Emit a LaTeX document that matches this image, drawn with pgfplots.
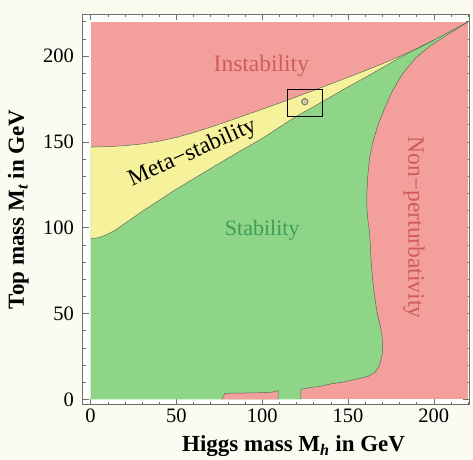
\documentclass[border=0pt]{standalone}
\usepackage{pgfplots}
\pgfplotsset{compat=1.18}
\usepackage{fontspec}
\setmainfont{Liberation Serif}

\definecolor{cred}{RGB}{243,160,156}
\definecolor{cgreen}{RGB}{142,213,136}
\definecolor{cyellow}{RGB}{246,242,155}
\definecolor{credtext}{RGB}{208,92,88}
\definecolor{cgreentext}{RGB}{62,158,88}
\definecolor{edge}{RGB}{95,105,85}
\definecolor{bgcream}{RGB}{252,251,242}
\definecolor{framegray}{RGB}{110,110,110}

\begin{document}
\begin{tikzpicture}
% page background, also fixes the picture size (frame sits at 0,0)
\fill[bgcream,use as bounding box] (-82.7pt,-54.5pt) rectangle (390.3pt,404.5pt);
\begin{axis}[name=ax,scale only axis,width=386.3pt,height=390.5pt,
  xmin=-4.6,xmax=220.5,ymin=-3,ymax=224.5,
  axis background/.style={fill=white},
  axis line style={draw=framegray,line width=0.5pt},
  xtick={0,50,...,200},ytick={0,50,...,200},
  minor xtick={0,10,...,220},minor ytick={0,10,...,220},
  major tick length=6pt,minor tick length=3pt,
  every tick/.style={framegray,line width=0.5pt},
  tick align=inside,
  /pgf/number format/assume math mode=true,
  ticklabel style={font=\fontsize{20.5}{24}\selectfont,inner sep=0pt},
  xticklabel style={yshift=-4pt},
  yticklabel style={xshift=-8.5pt},
  xlabel={\bfseries Higgs mass M\textsubscript{\itshape h} in GeV},
  ylabel={\bfseries Top mass M\textsubscript{\itshape t} in GeV},
  label style={font=\fontsize{23}{27}\selectfont},
  xlabel style={at={(axis description cs:0.546,-0.12)},anchor=base},
  ylabel style={at={(axis description cs:-0.152,0.5)},anchor=base},
]
% instability everywhere
\addplot[fill=cred,draw=none] coordinates {(0,0)(220,0)(220,220)(0,220)} -- cycle;
% stability region
\addplot[fill=cgreen,draw=none] coordinates {
  (0,0)(122.5,0)(122.5,5.8)(127.7,6.9)(133,7.4)(140,9)(148,10.2)(156,12)(162,13.5)
  (166,16)(168.5,20)(170,27)(170,35)(169,42)(167,50)(165.5,60)(164.3,70)(163.5,80)
  (163,90)(162.5,98)(161.5,105)(161,112)(161,120)(161.5,130)(162.5,140)(164.5,150)
  (167.5,160)(171.5,170)(176,180)(182,190)(189.5,199)(198,206)(208,212.5)(215,216.8)(220,220)
  (210,214.6)(200,209.3)(190,204.2)(180,199.8)(170,195.5)(160,191.5)(150,187.6)(140,183.8)
  (130,180)(120,176.3)(110,172.6)(100,169)(90,165.5)(80,162)(70,158.6)(60,155.4)(50,152.6)
  (40,150.4)(30,148.8)(20,147.8)(10,147.2)(0,147)} -- cycle;
% meta-stability band
\addplot[fill=cyellow,draw=none] coordinates {
  (0,147)(10,147.2)(20,147.8)(30,148.8)(40,150.4)(50,152.6)(60,155.4)(70,158.6)(80,162)
  (90,165.5)(100,169)(110,172.6)(120,176.3)(130,180)(140,183.8)(150,187.6)(160,191.5)
  (170,195.5)(180,199.8)(190,204.2)(200,209.3)
  (190,204.3)(180,199)(170,193.2)(160,187.5)(150,182)(140,176.3)(130,170.5)(120,165)
  (110,158.5)(100,152)(90,146.3)(80,140.5)(70,134.5)(60,128.5)(50,122.5)(40,116)(30,109.5)
  (25,106)(20,102.5)(15,99)(10,96.2)(5,94.3)(0,93.5)} -- cycle;
% red strip at the bottom
\addplot[fill=cred,draw=edge,line width=0.5pt] coordinates {
  (76.4,0)(78.3,3.5)(90,3.7)(100,3.9)(106,4.2)(108.5,4.9)(109.3,5.1)(109.3,0)};
% boundaries
\addplot[edge,line width=0.5pt] coordinates {
  (0,147)(10,147.2)(20,147.8)(30,148.8)(40,150.4)(50,152.6)(60,155.4)(70,158.6)(80,162)
  (90,165.5)(100,169)(110,172.6)(120,176.3)(130,180)(140,183.8)(150,187.6)(160,191.5)
  (170,195.5)(180,199.8)(190,204.2)(200,209.3)(210,214.6)(220,220)};
\addplot[edge,line width=0.5pt] coordinates {
  (0,93.5)(5,94.3)(10,96.2)(15,99)(20,102.5)(25,106)(30,109.5)(40,116)(50,122.5)(60,128.5)
  (70,134.5)(80,140.5)(90,146.3)(100,152)(110,158.5)(120,165)(130,170.5)(140,176.3)
  (150,182)(160,187.5)(170,193.2)(180,199)(190,204.3)(200,209.3)};
\addplot[edge,line width=0.5pt] coordinates {
  (122.5,0)(122.5,5.8)(127.7,6.9)(133,7.4)(140,9)(148,10.2)(156,12)(162,13.5)
  (166,16)(168.5,20)(170,27)(170,35)(169,42)(167,50)(165.5,60)(164.3,70)(163.5,80)
  (163,90)(162.5,98)(161.5,105)(161,112)(161,120)(161.5,130)(162.5,140)(164.5,150)
  (167.5,160)(171.5,170)(176,180)(182,190)(189.5,199)(198,206)(208,212.5)(215,216.8)(220,220)};
% measured point and its box
\addplot[black,line width=1pt] coordinates {(114.5,165)(135,165)(135,180.5)(114.5,180.5)} -- cycle;
\addplot[only marks,mark=o,mark size=3pt,gray,line width=1.3pt] coordinates {(124.8,173.4)};
\addplot[only marks,mark=*,mark size=0.9pt,gray!70] coordinates {(124.8,173.4)};
% region names
\node[anchor=base,text=credtext,font=\fontsize{23.5}{28}\selectfont] at (axis cs:99.5,190.8) {Instability};
\node[anchor=base,text=cgreentext,font=\fontsize{22}{26}\selectfont] at (axis cs:100,95.2) {Stability};
\node[rotate=24,font=\fontsize{23.5}{28}\selectfont] at (axis cs:59.4,143.4) {Meta−stability};
\node[anchor=base,rotate=-90,text=credtext,font=\fontsize{23.5}{28}\selectfont] at (axis cs:185.1,100) {Non−perturbativity};
\end{axis}
\end{tikzpicture}
\end{document}
